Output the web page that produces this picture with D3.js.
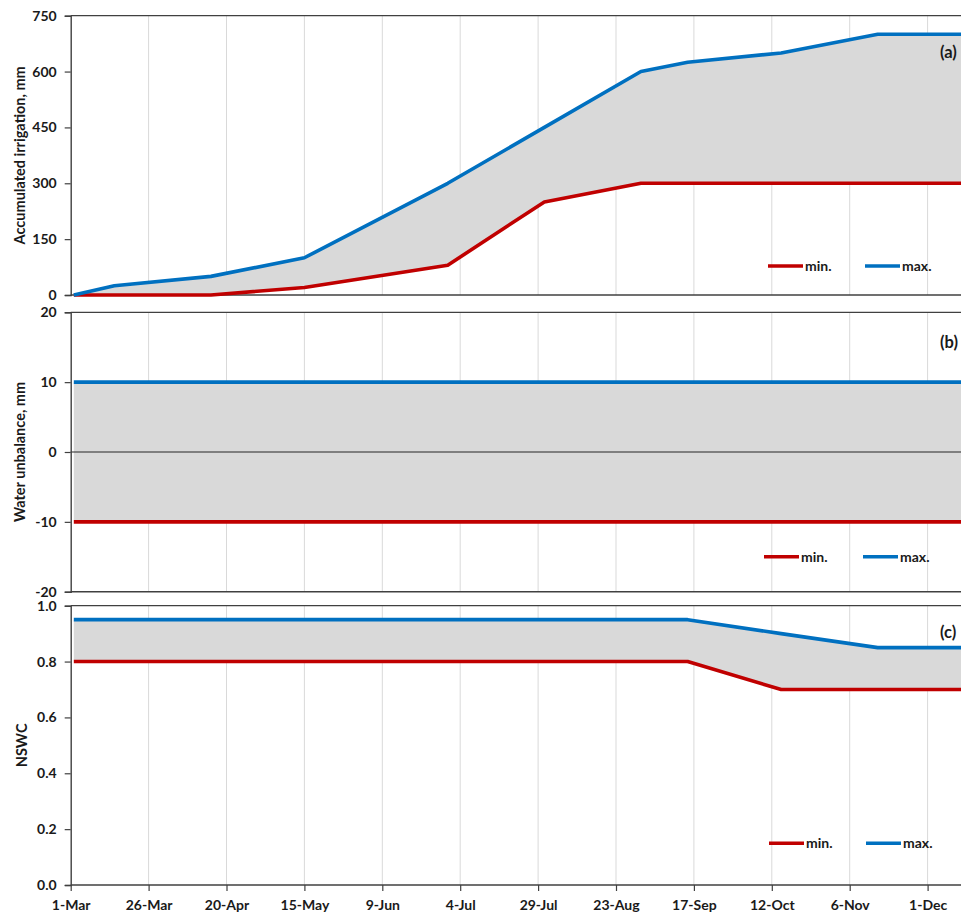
<!DOCTYPE html>
<html>
<head>
<meta charset="utf-8">
<script src="https://cdn.jsdelivr.net/npm/d3@7"></script>
<style>
  html, body { margin: 0; padding: 0; background: #fff; overflow: hidden; }
  svg { display: block; font-family: Lato, "Open Sans", sans-serif; font-weight: 700; }
</style>
</head>
<body>
<svg id="chart" width="961" height="913"></svg>
<script>
// Season dates shared by every series
const dates = ["2021-03-02", "2021-03-15", "2021-04-15", "2021-05-15", "2021-06-30",
               "2021-07-31", "2021-08-31", "2021-09-15", "2021-10-15", "2021-11-15", "2021-12-31"];

// (a) accumulated irrigation, mm
const irrigationMin = [0, 0, 0, 20, 80, 250, 300, 300, 300, 300, 300];
const irrigationMax = [0, 25, 50, 100, 300, 450, 600, 625, 650, 700, 700];

// (b) water unbalance, mm
const unbalanceMin = [-10, -10, -10, -10, -10, -10, -10, -10, -10, -10, -10];
const unbalanceMax = [10, 10, 10, 10, 10, 10, 10, 10, 10, 10, 10];

// (c) normalised soil water content
const nswcMin = [0.8, 0.8, 0.8, 0.8, 0.8, 0.8, 0.8, 0.8, 0.7, 0.7, 0.7];
const nswcMax = [0.95, 0.95, 0.95, 0.95, 0.95, 0.95, 0.95, 0.95, 0.9, 0.85, 0.85];

// Axis ticks
const xTickLabels = ["1-Mar", "26-Mar", "20-Apr", "15-May", "9-Jun", "4-Jul", "29-Jul",
                     "23-Aug", "17-Sep", "12-Oct", "6-Nov", "1-Dec"];
const irrigationTicks = [0, 150, 300, 450, 600, 750];
const unbalanceTicks = [-20, -10, 0, 10, 20];
const nswcTicks = [0, 0.2, 0.4, 0.6, 0.8, 1.0];

const seriesNames = ["min.", "max."];
const colors = { min: "#C00000", max: "#0070C0", band: "#D9D9D9", axis: "#404040",
                 grid: "#D9D9D9", text: "#1A1A1A" };
const FONT = "Lato, 'Open Sans', sans-serif";

const parseDate = d3.timeParse("%Y-%m-%d");
const parseTick = d3.timeParse("%Y-%e-%b");
const dateObjs = dates.map(parseDate);
const tickDates = xTickLabels.map(s => parseTick("2021-" + s));

const svg = d3.select("#chart");
const left = 70.7;
const x = d3.scaleTime()
  .domain([parseDate("2021-03-01"), parseDate("2021-12-31")])
  .range([left, left + 305 * 3.116]);
const right = x.range()[1];

const panels = [
  { top: 15.7, bottom: 295, domain: [0, 750], ticks: irrigationTicks, fmt: d => String(d),
    min: irrigationMin, max: irrigationMax, title: "Accumulated irrigation, mm", titleX: 20,
    tag: "(a)", tagY: 58, legendY: 266, legendX: [768, 865], zeroLine: false, xLabels: false },
  { top: 312.3, bottom: 591.7, domain: [-20, 20], ticks: unbalanceTicks, fmt: d => String(d),
    min: unbalanceMin, max: unbalanceMax, title: "Water unbalance, mm", titleX: 20,
    tag: "(b)", tagY: 348, legendY: 556.7, legendX: [764, 863], zeroLine: true, xLabels: false },
  { top: 605.7, bottom: 885, domain: [0, 1], ticks: nswcTicks, fmt: d3.format(".1f"),
    min: nswcMin, max: nswcMax, title: "NSWC", titleX: 22,
    tag: "(c)", tagY: 638, legendY: 843.3, legendX: [769, 866], zeroLine: false, xLabels: true }
];

panels.forEach(p => {
  const y = d3.scaleLinear().domain(p.domain).range([p.bottom, p.top]);
  const g = svg.append("g");

  // vertical gridlines
  g.append("g").selectAll("line").data(tickDates.slice(1)).join("line")
    .attr("x1", d => x(d)).attr("x2", d => x(d))
    .attr("y1", p.top).attr("y2", p.bottom)
    .attr("stroke", colors.grid).attr("stroke-width", 1);

  const rows = dateObjs.map((d, i) => ({ date: d, lo: p.min[i], hi: p.max[i] }));

  // band between min and max
  g.append("path").datum(rows)
    .attr("fill", colors.band)
    .attr("d", d3.area().x(d => x(d.date)).y0(d => y(d.lo)).y1(d => y(d.hi)));

  // top frame line
  g.append("line").attr("x1", left).attr("x2", right + 20)
    .attr("y1", p.top).attr("y2", p.top)
    .attr("stroke", colors.axis).attr("stroke-width", 1.2);

  if (p.zeroLine) {
    g.append("line").attr("x1", left).attr("x2", right + 20)
      .attr("y1", y(0)).attr("y2", y(0))
      .attr("stroke", "#262626").attr("stroke-width", 1.2);
  }

  // x axis along the bottom
  const xAxis = d3.axisBottom(x).tickValues(tickDates)
    .tickSize(p.xLabels ? 6 : 0).tickPadding(6)
    .tickFormat((d, i) => p.xLabels ? xTickLabels[i] : "");
  const xg = g.append("g").attr("transform", `translate(0,${p.bottom})`).call(xAxis);
  xg.select(".domain").attr("d", `M${left},0H${right + 20}`);

  // y axis
  const yAxis = d3.axisLeft(y).tickValues(p.ticks).tickSize(6).tickPadding(8).tickFormat(p.fmt);
  const yg = g.append("g").attr("transform", `translate(${left},0)`).call(yAxis);

  [xg, yg].forEach(a => {
    a.selectAll(".domain").attr("stroke", colors.axis).attr("stroke-width", 1.4);
    a.selectAll(".tick line").attr("stroke", colors.axis).attr("stroke-width", 1.2);
    a.selectAll(".tick text").attr("fill", colors.text)
      .attr("font-size", 14).attr("font-weight", 700).attr("font-family", FONT);
  });
  xg.selectAll(".tick text").attr("dy", "0.9em");

  // min / max lines
  const line = key => d3.line().x(d => x(d.date)).y(d => y(d[key]));
  g.append("path").datum(rows).attr("fill", "none").attr("stroke", colors.min)
    .attr("stroke-width", 3.6).attr("stroke-linejoin", "round").attr("d", line("lo"));
  g.append("path").datum(rows).attr("fill", "none").attr("stroke", colors.max)
    .attr("stroke-width", 3.6).attr("stroke-linejoin", "round").attr("d", line("hi"));

  // y title
  g.append("text")
    .attr("transform", `translate(${p.titleX},${(p.top + p.bottom) / 2}) rotate(-90)`)
    .attr("text-anchor", "middle").attr("dy", "0.35em")
    .attr("font-size", 14.5).attr("fill", colors.text)
    .text(p.title);

  // panel tag
  g.append("text").attr("x", 940).attr("y", p.tagY)
    .attr("font-size", 16.5).attr("fill", colors.text).text(p.tag);

  // legend
  const legendColors = [colors.min, colors.max];
  seriesNames.forEach((name, i) => {
    const lx = p.legendX[i];
    g.append("line").attr("x1", lx).attr("x2", lx + 35)
      .attr("y1", p.legendY).attr("y2", p.legendY)
      .attr("stroke", legendColors[i]).attr("stroke-width", 3.6);
    g.append("text").attr("x", lx + 37).attr("y", p.legendY).attr("dy", "0.35em")
      .attr("font-size", 14).attr("fill", colors.text).text(name);
  });
});
</script>
</body>
</html>
